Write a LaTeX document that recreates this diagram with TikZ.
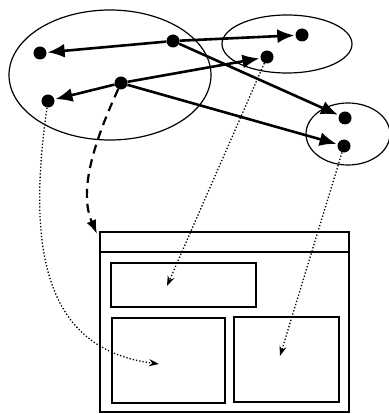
\documentclass[tikz,border=0pt]{standalone}
\usetikzlibrary{arrows.meta}
\tikzset{
  dot/.style={circle, fill=black, inner sep=0pt, minimum size=13pt},
  link/.style={line width=2.6pt, -{Latex[length=17pt,width=14pt]}, shorten >=1pt},
  pane/.style={line width=2.6pt},
  trace/.style={dotted, line width=1.3pt, -{Stealth[length=10pt,width=7pt]}},
  group/.style={line width=1.2pt}
}
\begin{document}
\begin{tikzpicture}[x=1pt, y=-1pt]
  \useasboundingbox (0,0) rectangle (388,414);
  % the three clusters
  \draw[group] (110,75) ellipse (101 and 65);
  \draw[group] (287,44) ellipse (65 and 29);
  \draw[group] (348,134) ellipse (42 and 31);
  % objects
  \node[dot] (A) at (173,41) {};
  \node[dot] (B) at (40,53) {};
  \node[dot] (C) at (121,83) {};
  \node[dot] (D) at (48,101) {};
  \node[dot] (E) at (302,35) {};
  \node[dot] (F) at (267,57) {};
  \node[dot] (G) at (345,118) {};
  \node[dot] (H) at (344,146) {};
  % references between objects
  \draw[link] (A) -- (B);
  \draw[link] (A) -- (E);
  \draw[link] (A) -- (G);
  \draw[link] (C) -- (D);
  \draw[link] (C) -- (F);
  \draw[link] (C) -- (H);
  % window with its panes
  \draw[pane] (100,232) rectangle (349,412);
  \draw[pane] (100,252) -- (349,252);
  \draw[pane] (111,263) rectangle (256,307);
  \draw[pane] (112,318) rectangle (225,403);
  \draw[pane] (234,317) rectangle (339,402);
  \coordinate (W) at (97,234);
  \coordinate (P1) at (167,286);
  \coordinate (P2) at (159,364);
  \coordinate (P3) at (280,356);
  % mapping onto the panes
  \draw[line width=2.2pt, dash pattern=on 9pt off 6pt, -{Latex[length=14pt,width=10pt]}]
    (C) .. controls (95,140) and (78,190) .. (W);
  \draw[trace] (D) .. controls (25,260) and (50,350) .. (P2);
  \draw[trace] (F) -- (P1);
  \draw[trace] (H) -- (P3);
\end{tikzpicture}
\end{document}
